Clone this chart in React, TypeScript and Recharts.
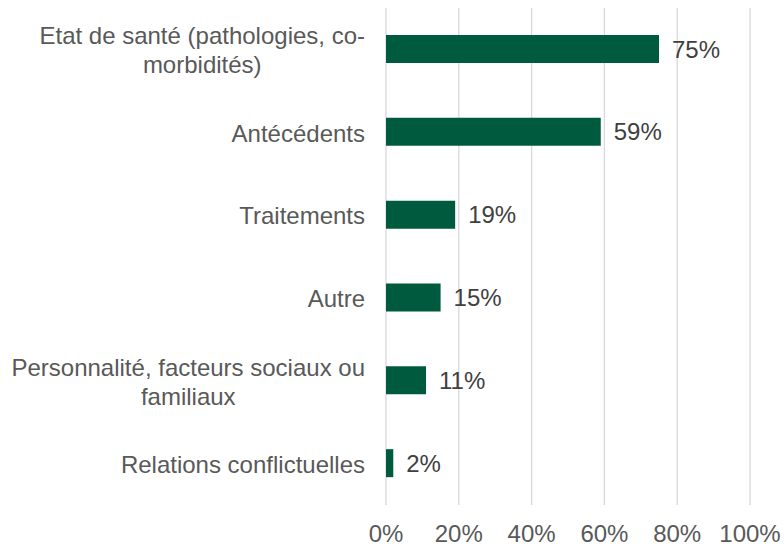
import React from 'react';
import { BarChart, Bar, XAxis, YAxis, CartesianGrid, LabelList } from 'recharts';

const categories = [
  'Etat de santé (pathologies, co-\nmorbidités)',
  'Antécédents',
  'Traitements',
  'Autre',
  'Personnalité, facteurs sociaux ou\nfamiliaux',
  'Relations conflictuelles',
];
const values = [75, 59, 19, 15, 11, 2];
const xTicks = [0, 20, 40, 60, 80, 100];

const data = categories.map((name, i) => ({ name, value: values[i] }));

const FONT = '"Liberation Sans", Arial, sans-serif';

let ctx: CanvasRenderingContext2D | null = null;
function textWidth(s: string) {
  if (!ctx) ctx = document.createElement('canvas').getContext('2d');
  if (!ctx) return s.length * 12;
  ctx.font = '24px "Liberation Sans", Arial, sans-serif';
  return ctx.measureText(s).width;
}

function CategoryTick(props: any) {
  const { x, y, payload } = props;
  const lines: string[] = String(payload.value).split('\n');
  const maxW = Math.max(...lines.map(textWidth));
  const cx = x - 13 - maxW / 2;
  const lineH = 29;
  const startY = y + 1 - ((lines.length - 1) * lineH) / 2;
  return (
    <g>
      {lines.map((line, i) => (
        <text
          key={i}
          x={cx}
          y={startY + i * lineH}
          dy="0.35em"
          textAnchor="middle"
          fill="#595959"
          fontSize={24}
          fontFamily={FONT}
        >
          {line}
        </text>
      ))}
    </g>
  );
}

export default function App() {
  return (
    <div style={{ position: 'absolute', left: 0, top: 0, width: 784, height: 544, background: '#fff' }}>
      <BarChart
        width={784}
        height={544}
        data={data}
        layout="vertical"
        margin={{ top: 8, right: 34, bottom: 0, left: 0 }}
      >
        <CartesianGrid horizontal={false} stroke="#d9d9d9" strokeWidth={1.3} />
        <XAxis
          type="number"
          domain={[0, 100]}
          ticks={xTicks}
          tickFormatter={(v: number) => `${v}%`}
          axisLine={false}
          tickLine={false}
          tickSize={0}
          tickMargin={20}
          height={39}
          interval={0}
          tick={{ fill: '#595959', fontSize: 24, fontFamily: FONT }}
        />
        <YAxis
          type="category"
          dataKey="name"
          width={386}
          axisLine={false}
          tickLine={false}
          interval={0}
          tick={<CategoryTick />}
        />
        <Bar dataKey="value" fill="#005a3e" barSize={28} isAnimationActive={false}>
          <LabelList
            dataKey="value"
            position="right"
            offset={13}
            formatter={(v: any) => `${v}%`}
            fill="#404040"
            fontSize={24}
            fontFamily={FONT}
          />
        </Bar>
      </BarChart>
    </div>
  );
}
